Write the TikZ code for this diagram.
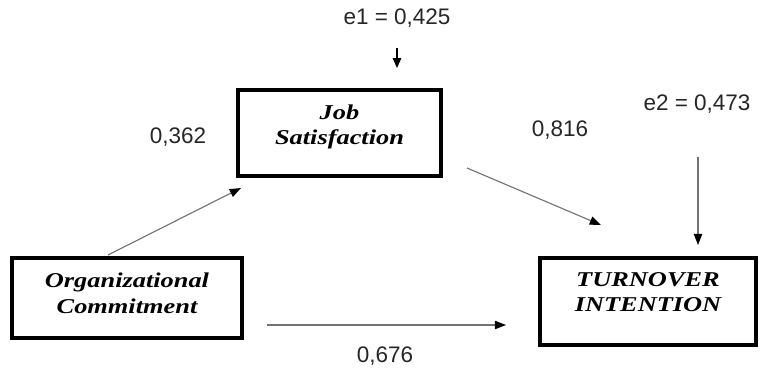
\documentclass[tikz,border=0pt]{standalone}
\usepackage{fontspec}
\setmainfont{Liberation Sans}
\newfontfamily\boxfont{Liberation Serif}[FakeStretch=1.25]
\usetikzlibrary{arrows.meta,positioning}
\tikzset{
  varbox/.style   = {draw,line width=2.4pt,align=center,inner sep=0pt,
                     font=\boxfont\bfseries\itshape\fontsize{15}{18}\selectfont},
  patharrow/.style= {-{Triangle[length=8pt,width=6pt,color=black]},
                     draw=black!55,line width=0.8pt},
  coef/.style     = {font=\fontsize{16}{19}\selectfont,text=black!85},
}

\begin{document}
\begin{tikzpicture}[x=0.025cm,y=-0.025cm]
  \useasboundingbox (0,0) rectangle (760,369);
  % variables
  \node[varbox,minimum width=5.075cm,minimum height=2.15cm,text depth=12pt]
       (js) at (339.5,133) {Job\\Satisfaction};
  \node[varbox,minimum width=5.75cm,minimum height=2.0cm,text depth=7pt]
       (oc) at (127,298) {Organizational\\Commitment};
  \node[varbox,minimum width=5.4cm,minimum height=2.175cm,text depth=13.5pt]
       (ti) at (648,301.5) {TURNOVER\\INTENTION};
  % error terms
  \node[coef] (e1) at (397,18) {e1 = 0,425};
  \node[coef] (e2) at (697,104) {e2 = 0,473};
  \coordinate (e1s) at (397,48);
  \coordinate (e1e) at (397,68);
  \coordinate (e2s) at (698,157);
  \coordinate (e2e) at (698,245);
  \draw[patharrow,draw=black,-{Triangle[length=7pt,width=6pt]}] (e1s) -- (e1e);
  \draw[patharrow] (e2s) -- (e2e);
  % paths
  \coordinate (a1) at (108,255);
  \coordinate (a2) at (241,188);
  \coordinate (b1) at (467,168);
  \coordinate (b2) at (601,225);
  \coordinate (c1) at (267,325);
  \coordinate (c2) at (506,325);
  \draw[patharrow] (a1) -- (a2);
  \draw[patharrow] (b1) -- (b2);
  \draw[patharrow] (c1) -- (c2);
  \node[coef] (p1) at (178,137) {0,362};
  \node[coef] (p2) at (560,130) {0,816};
  \node[coef] (p3) at (385,356) {0,676};
\end{tikzpicture}
\end{document}
